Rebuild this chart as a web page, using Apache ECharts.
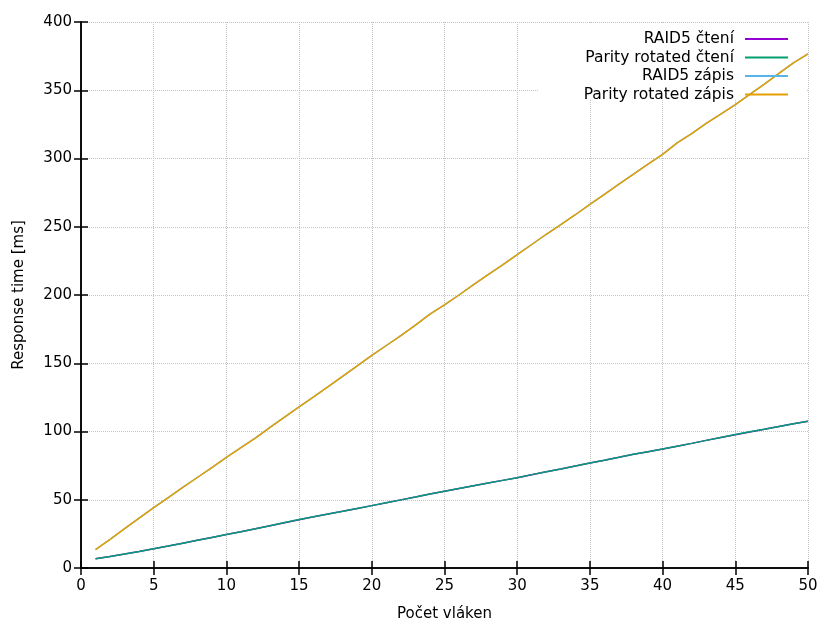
<!DOCTYPE html>
<html>
<head>
<meta charset="utf-8">
<script src="https://cdn.jsdelivr.net/npm/echarts@6/dist/echarts.min.js"></script>
<style>
  html, body { margin: 0; padding: 0; background: #fff; }
  #chart { width: 823px; height: 622px; }
</style>
</head>
<body>
<div id="chart"></div>
<script>
// pocet vlaken 1..50
const threads = [1,2,3,4,5,6,7,8,9,10,11,12,13,14,15,16,17,18,19,20,21,22,23,24,25,
  26,27,28,29,30,31,32,33,34,35,36,37,38,39,40,41,42,43,44,45,46,47,48,49,50];

const raid5Cteni = [6.8,8.5,10.2,12.1,14.1,16.1,18.2,20.3,22.4,24.5,26.6,28.8,31.0,33.2,35.4,
  37.5,39.5,41.5,43.6,45.7,47.8,49.9,52.0,54.2,56.3,58.3,60.3,62.2,64.2,66.1,
  68.3,70.5,72.6,74.8,77.0,79.0,81.1,83.3,85.2,87.1,89.2,91.3,93.5,95.6,97.7,
  99.7,101.6,103.6,105.6,107.5];
const parityCteni = [6.8,8.4,10.2,12.1,14.1,16.1,18.2,20.3,22.4,24.5,26.6,28.8,31.0,33.3,35.5,
  37.6,39.5,41.5,43.6,45.7,47.8,49.9,52.0,54.2,56.3,58.3,60.3,62.3,64.2,66.1,
  68.4,70.5,72.6,74.8,77.0,79.0,81.1,83.3,85.2,87.1,89.2,91.3,93.5,95.6,97.8,
  99.8,101.6,103.6,105.6,107.5];
const raid5Zapis = [13.4,21.0,28.8,36.5,44.2,51.5,59.0,66.3,73.6,81.0,88.2,95.3,103.0,110.6,118.0,
  125.3,132.8,140.4,148.0,155.7,163.0,170.3,178.0,186.0,192.7,200.0,207.6,215.0,222.0,229.5,
  237.0,244.5,251.5,258.8,266.4,273.8,281.2,288.5,295.8,303.0,311.4,318.2,325.8,332.5,339.4,
  347.0,354.5,362.3,370.0,376.6];
const parityZapis = [13.4,21.0,28.8,36.5,44.2,51.5,59.0,66.3,73.6,81.0,88.2,95.2,103.0,110.6,118.0,
  125.3,132.8,140.5,148.0,155.7,163.0,170.3,178.0,186.0,192.7,200.0,207.6,215.0,222.0,229.5,
  237.0,244.5,251.5,258.8,266.4,273.8,281.2,288.5,295.8,303.0,311.5,318.2,325.8,332.5,339.4,
  347.0,354.5,362.3,370.0,376.6];

const seriesNames = ['RAID5 čtení', 'Parity rotated čtení', 'RAID5 zápis', 'Parity rotated zápis'];
const seriesValues = [raid5Cteni, parityCteni, raid5Zapis, parityZapis];
const colors = ['#9400d3', '#009e73', '#56b4e9', '#e69f00'];

const font = 'DejaVu Sans';
const fs = 15;
const gridLine = { show: true, lineStyle: { color: '#c4c4c4', type: [1, 1], width: 1 } };
const axisLineStyle = { color: '#000', width: 1.5 };

const chart = echarts.init(document.getElementById('chart'), null, { renderer: 'canvas' });

chart.setOption({
  animation: false,
  backgroundColor: '#fff',
  textStyle: { fontFamily: font, color: '#000' },
  color: colors,
  grid: { left: 81, right: 15, top: 22, bottom: 54, containLabel: false, outerBoundsMode: 'none' },
  graphic: [{
    type: 'rect',
    z: 1,
    shape: { x: 538, y: 23, width: 269, height: 76 },
    style: { fill: '#fff' }
  }],
  legend: {
    orient: 'vertical',
    right: 30,
    top: 26,
    align: 'right',
    itemWidth: 43,
    itemHeight: 2,
    itemGap: 2.5,
    icon: 'rect',
    textStyle: { fontFamily: font, fontSize: 15.5, color: '#000', padding: [0, 6, 0, 0] },
    data: seriesNames
  },
  xAxis: [{
    type: 'value',
    min: 0, max: 50, interval: 5,
    position: 'bottom',
    name: 'Počet vláken',
    nameLocation: 'middle',
    nameGap: 39,
    nameTextStyle: { fontFamily: font, fontSize: fs, color: '#000' },
    axisLine: { show: true, lineStyle: axisLineStyle },
    axisTick: { show: true, inside: true, length: 7, lineStyle: axisLineStyle },
    axisLabel: { fontFamily: font, fontSize: fs, color: '#000', margin: 11 },
    splitLine: gridLine
  }, {
    type: 'value',
    min: 0, max: 50, interval: 5,
    position: 'top',
    z: 3,
    axisLine: { show: true, lineStyle: axisLineStyle },
    axisTick: { show: true, inside: true, length: 7, lineStyle: axisLineStyle },
    axisLabel: { show: false },
    splitLine: { show: false }
  }],
  yAxis: [{
    type: 'value',
    min: 0, max: 400, interval: 50,
    position: 'left',
    name: 'Response time [ms]',
    nameLocation: 'middle',
    nameGap: 54,
    nameTextStyle: { fontFamily: font, fontSize: fs, color: '#000' },
    axisLine: { show: true, lineStyle: axisLineStyle },
    axisTick: { show: true, inside: true, length: 7, lineStyle: axisLineStyle },
    axisLabel: { fontFamily: font, fontSize: fs, color: '#000', margin: 9 },
    splitLine: gridLine
  }, {
    type: 'value',
    min: 0, max: 400, interval: 50,
    position: 'right',
    z: 3,
    axisLine: { show: true, lineStyle: axisLineStyle },
    axisTick: { show: true, inside: true, length: 7, lineStyle: axisLineStyle },
    axisLabel: { show: false },
    splitLine: { show: false }
  }],
  series: seriesNames.map((name, i) => ({
    name: name,
    type: 'line',
    xAxisIndex: 0,
    yAxisIndex: 0,
    z: 2 + i * 0.1,
    showSymbol: false,
    symbol: 'none',
    lineStyle: { width: 1.5, color: colors[i] },
    itemStyle: { color: colors[i] },
    data: threads.map((t, j) => [t, seriesValues[i][j]])
  }))
});
</script>
</body>
</html>
